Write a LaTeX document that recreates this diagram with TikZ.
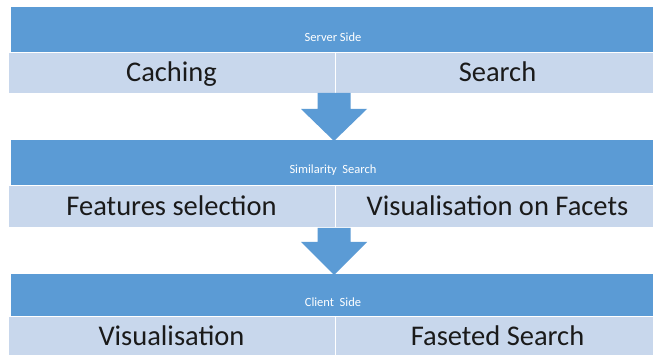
\documentclass[tikz,border=0pt]{standalone}
\usepackage{fontspec}
\setmainfont{Carlito}
\usetikzlibrary{calc}
\definecolor{hdrblue}{HTML}{5B9BD5}
\definecolor{celblue}{HTML}{C8D7EC}
\definecolor{txtdark}{HTML}{1A1A1A}
\tikzset{
  hdr/.style={rectangle, fill=hdrblue, draw=white, line width=0.7pt, anchor=north west,
    minimum width=650pt, outer sep=0pt, inner sep=0pt},
  hdrtext/.style={text=white, font=\fontsize{12.5}{14}\selectfont, inner sep=0pt},
  cell/.style={rectangle, fill=celblue, draw=white, line width=0.7pt, anchor=north west,
    outer sep=0pt, inner sep=0pt, text=txtdark, font=\fontsize{28.5}{32}\selectfont,
    text height=20pt, text depth=1pt},
  downarrow/.style={fill=hdrblue, draw=none}
}
\begin{document}
\begin{tikzpicture}[x=1pt,y=-1pt]
  \useasboundingbox (0,0) rectangle (653,355);
  \clip (0,0) rectangle (653,355);
  \fill[white] (0,0) rectangle (653,355);

  % tier 1: server side
  \node[hdr, minimum height=46pt] (h1) at (10,6) {};
  \node[hdrtext] (h1t) at ([yshift=15pt]h1.south -| 333,0) {Server Side};
  \node[cell, minimum width=327pt, minimum height=41pt] (c1a) at (8,52) {Caching};
  \node[cell, minimum width=325pt, minimum height=41pt] (c1b) at (335,52) {Search};

  % tier 2: similarity search
  \node[hdr, minimum height=46pt] (h2) at (10,139) {};
  \node[hdrtext] (h2t) at ([yshift=15pt]h2.south -| 333,0) {Similarity\hspace{0.45em}Search};
  \node[cell, minimum width=327pt, minimum height=42pt] (c2a) at (8,185) {Features selection};
  \node[cell, minimum width=325pt, minimum height=42pt] (c2b) at (335,185) {Visualisation on Facets};

  % tier 3: client side
  \node[hdr, minimum height=43pt] (h3) at (10,273) {};
  \node[hdrtext] (h3t) at ([yshift=14pt]h3.south -| 333,0) {Client\hspace{0.45em}Side};
  \node[cell, minimum width=327pt, minimum height=40pt] (c3a) at (8,316) {Visualisation};
  \node[cell, minimum width=325pt, minimum height=40pt] (c3b) at (335,316) {Faseted Search};

  % block arrows between tiers
  \coordinate (a1s) at (334,93);
  \coordinate (a1t) at (334,141);
  \fill[downarrow] ($(a1s)+(-16.5,0)$) -- ($(a1s)+(16.5,0)$) -- ($(a1s)+(16.5,16)$)
    -- ($(a1s)+(33,16)$) -- (a1t) -- ($(a1s)+(-33,16)$) -- ($(a1s)+(-16.5,16)$) -- cycle;
  \coordinate (a2s) at (334,228);
  \coordinate (a2t) at (334,275);
  \fill[downarrow] ($(a2s)+(-16.5,0)$) -- ($(a2s)+(16.5,0)$) -- ($(a2s)+(16.5,14)$)
    -- ($(a2s)+(33,14)$) -- (a2t) -- ($(a2s)+(-33,14)$) -- ($(a2s)+(-16.5,14)$) -- cycle;
\end{tikzpicture}
\end{document}
